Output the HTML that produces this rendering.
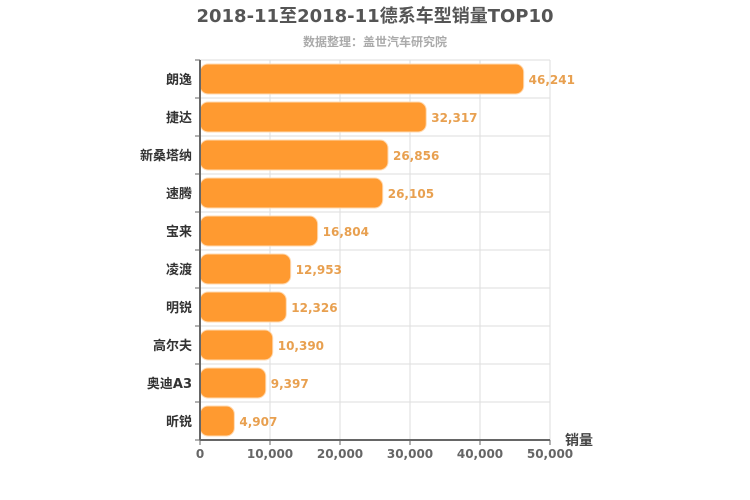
<!DOCTYPE html>
<html><head><meta charset="utf-8"><style>
body{margin:0;background:#fff;font-family:"DejaVu Sans","Noto Sans CJK SC",sans-serif;}
</style></head><body>
<svg id="c" width="750" height="500" style="display:block;font-family:'DejaVu Sans','Noto Sans CJK SC',sans-serif">
<text x="375" y="22" text-anchor="middle" font-size="18" font-weight="bold" fill="#555">2018-11至2018-11德系车型销量TOP10</text>
<text x="375" y="46" text-anchor="middle" font-size="12" font-weight="bold" fill="#aaa">数据整理：盖世汽车研究院</text>
<g id="grid"></g><g id="bars"></g><g id="axes"></g>
</svg>
<script>
const categories=["朗逸","捷达","新桑塔纳","速腾","宝来","凌渡","明锐","高尔夫","奥迪A3","昕锐"];
const values=[46241,32317,26856,26105,16804,12953,12326,10390,9397,4907];
const ticks=[0,10000,20000,30000,40000,50000];
const NS="http://www.w3.org/2000/svg";
const X0=200,X1=550,Y0=60,Y1=440,MAX=50000;
const x=v=>X0+(v/MAX)*(X1-X0);
const rowH=(Y1-Y0)/categories.length;
const y=i=>Y0+i*rowH;
function mk(tag,a,p){const e=document.createElementNS(NS,tag);for(const k in a)e.setAttribute(k,a[k]);p.appendChild(e);return e;}
const grid=document.getElementById('grid'),bars=document.getElementById('bars'),axes=document.getElementById('axes');
ticks.forEach(t=>{
 const l=mk('line',{x1:x(t),x2:x(t),y1:Y0,y2:Y1,stroke:'#ddd'},grid);
 
 
 mk('line',{x1:x(t),x2:x(t),y1:Y1,y2:Y1+5,stroke:'#666'},axes);
 const tx=mk('text',{x:x(t),y:Y1+18,'text-anchor':'middle','font-size':12,'font-weight':'bold',fill:'#666'},axes);
 tx.textContent=t.toLocaleString('en-US');
 
 
});
for(let i=0;i<=categories.length;i++){
 const l=mk('line',{x1:X0,x2:X1,y1:y(i),y2:y(i),stroke:'#ddd'},grid);
 
 
 mk('line',{x1:X0-5,x2:X0,y1:y(i),y2:y(i),stroke:'#666'},axes);
}
categories.forEach((c,i)=>{
 const b=mk('rect',{x:X0,y:y(i)+4,width:x(values[i])-X0,height:rowH-8,rx:8,fill:'#ff9a30',stroke:'#ffd9b0','stroke-width':1},bars);
 
 
 const v=mk('text',{x:x(values[i])+5,y:y(i)+rowH/2+5,'font-size':12,'font-weight':'bold',fill:'#e8a050'},bars);
 v.textContent=values[i].toLocaleString('en-US');
 
 
 const t=mk('text',{x:X0-8,y:y(i)+rowH/2+5,'text-anchor':'end','font-size':13,'font-weight':'bold',fill:'#333'},axes);
 t.textContent=c;
 
 
});
const ax=mk('line',{x1:X0,x2:X1,y1:Y1,y2:Y1,stroke:'#666','stroke-width':2},axes);


const ay=mk('line',{x1:X0,x2:X0,y1:Y0,y2:Y1,stroke:'#666','stroke-width':2},axes);


const at=mk('text',{x:565,y:445,'font-size':14,'font-weight':'bold',fill:'#444'},axes);
at.textContent='销量';


</script>
</body></html>
